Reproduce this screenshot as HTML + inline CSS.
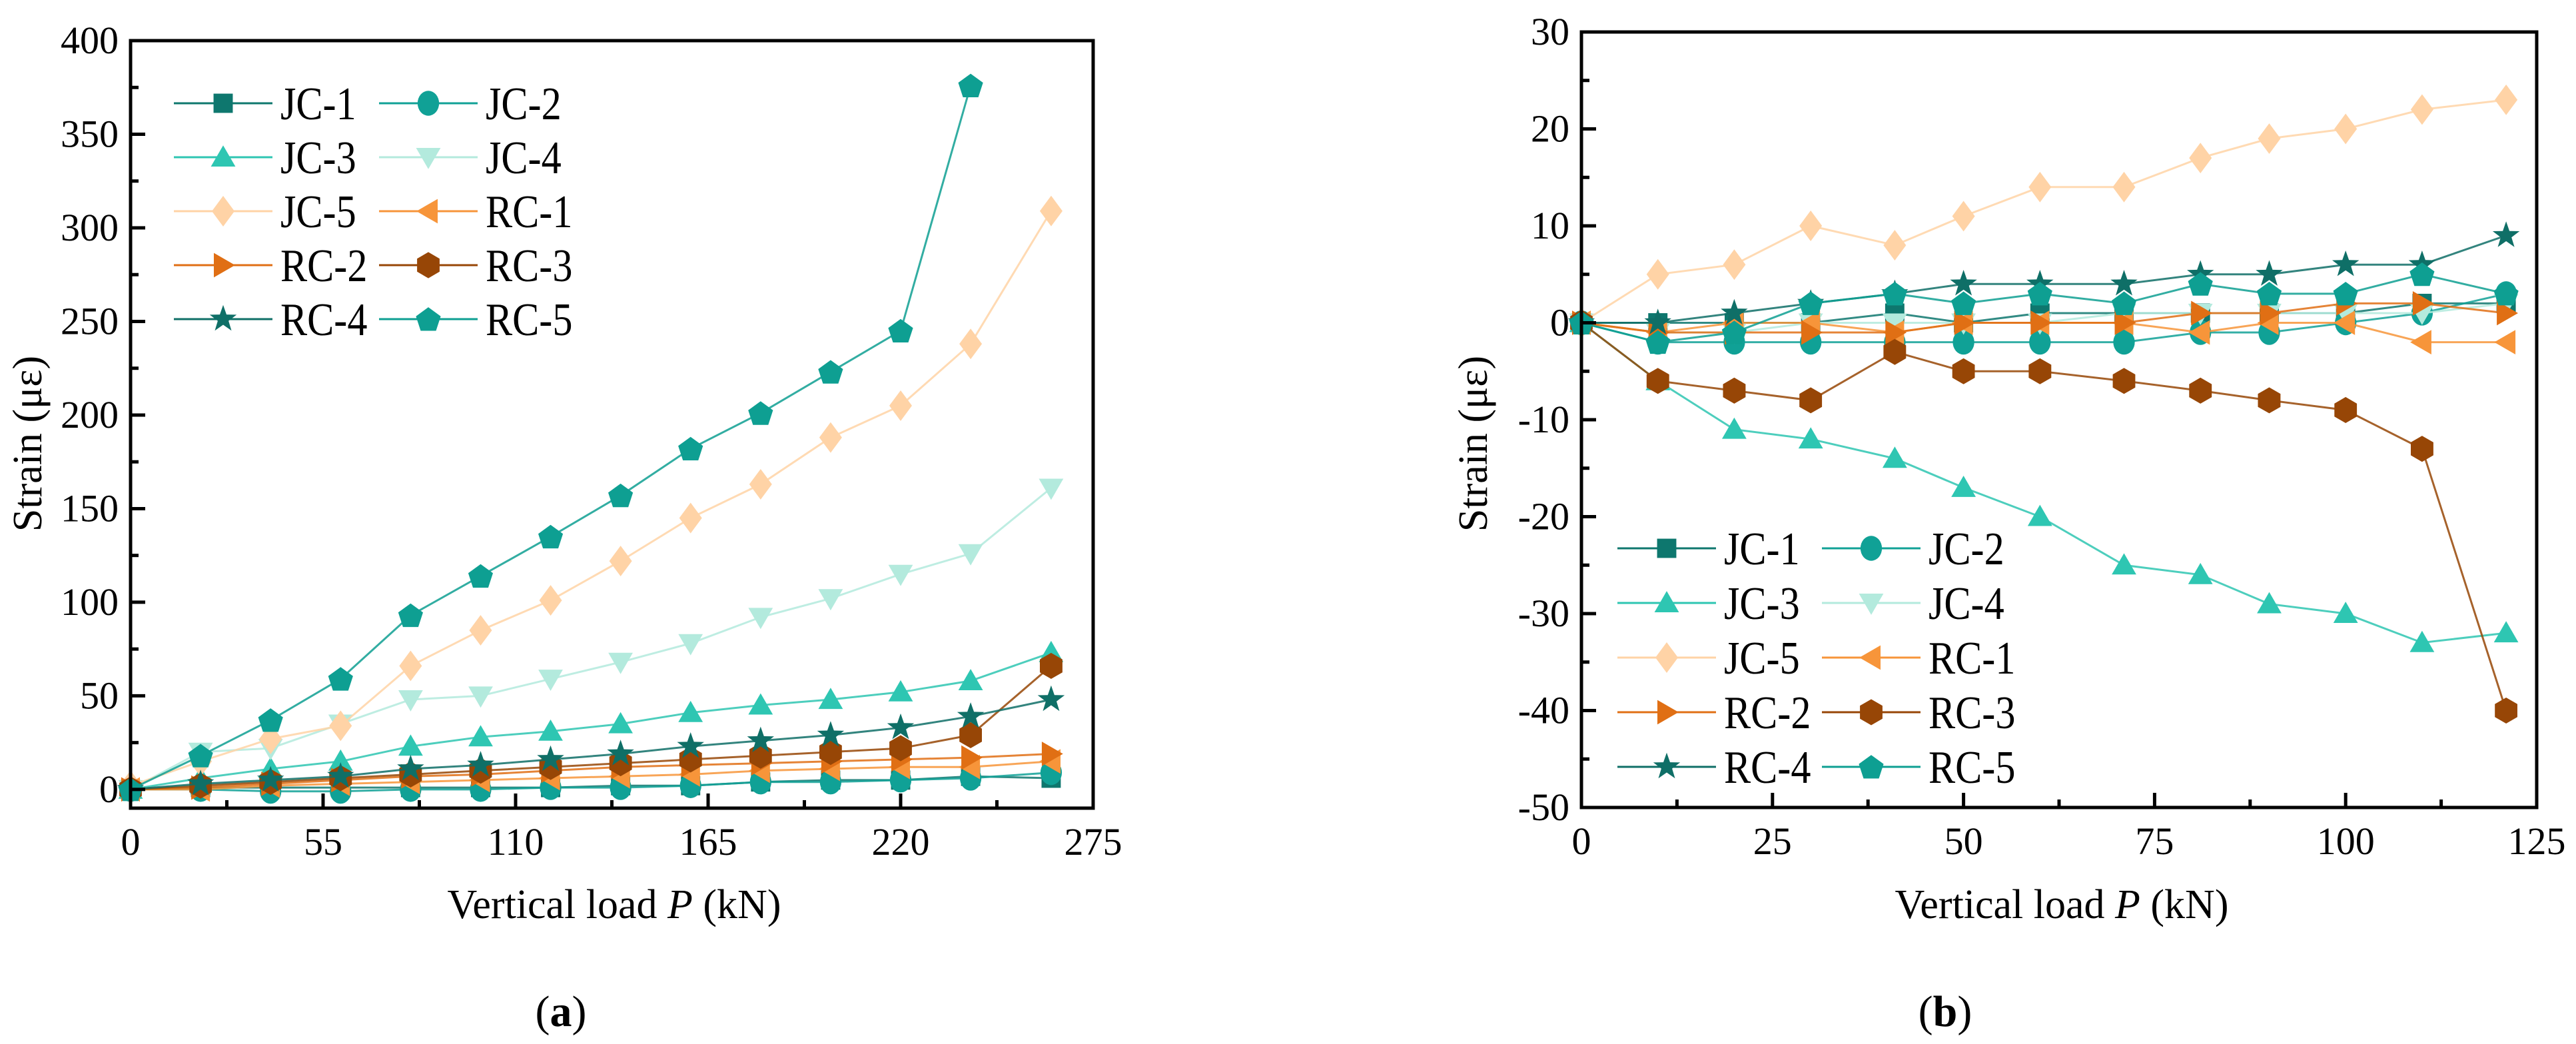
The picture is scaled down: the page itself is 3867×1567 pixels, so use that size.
<!DOCTYPE html>
<html><head><meta charset="utf-8">
<style>
html,body{margin:0;padding:0;background:#fff;}
svg{display:block;}
svg text{font-family:"Liberation Serif","DejaVu Serif",serif !important;fill:#000;}
</style></head>
<body>
<svg id="fig" width="3867" height="1567" viewBox="0 0 3867 1567" xmlns="http://www.w3.org/2000/svg" font-family="Liberation Serif, DejaVu Serif, serif">
<g id="chartA"></g>
<g id="chartB"></g>
</svg>
<script>
// ---------- Data: chart (a) ----------
const loadA = [0,20,40,60,80,100,120,140,160,180,200,220,240,263];
const jc1A = [0,1,1,1,1,1,1,2,2,4,5,5,7,6];
const jc2A = [0,0,-1,-1,0,0,1,1,2,4,4,5,6,9];
const jc3A = [0,6,11,15,23,28,31,35,41,45,48,52,58,73];
const jc4A = [0,20,22,35,48,50,59,68,78,92,102,115,126,161];
const jc5A = [2,15,27,34,66,85,101,122,145,163,188,205,238,309];
const rc1A = [0,0,2,3,4,5,6,7,8,10,11,12,12,15];
const rc2A = [0,1,3,5,7,8,10,12,13,14,15,16,17,19];
const rc3A = [0,2,4,6,8,10,12,14,16,18,20,22,29,66];
const rc4A = [0,3,5,7,11,13,16,19,23,26,29,33,39,48];
const rc5A = [0,18,37,59,93,114,135,157,182,201,223,245,376];
const xTicksA = [0,55,110,165,220,275];
const yTicksA = [0,50,100,150,200,250,300,350,400];

// ---------- Data: chart (b) ----------
const loadB = [0,10,20,30,41,50,60,71,81,90,100,110,121];
const jc1B = [0,0,0,0,1,0,1,1,1,1,1,2,2];
const jc2B = [0,-2,-2,-2,-2,-2,-2,-2,-1,-1,0,1,3];
const jc3B = [0,-6,-11,-12,-14,-17,-20,-25,-26,-29,-30,-33,-32];
const jc4B = [0,-1,-1,0,0,0,0,1,1,1,1,1,2];
const jc5B = [0,5,6,10,8,11,14,14,17,19,20,22,23];
const rc1B = [0,-1,0,0,-1,0,0,0,-1,0,0,-2,-2];
const rc2B = [0,-1,-1,-1,-1,0,0,0,1,1,2,2,1];
const rc3B = [0,-6,-7,-8,-3,-5,-5,-6,-7,-8,-9,-13,-40];
const rc4B = [0,0,1,2,3,4,4,4,5,5,6,6,9];
const rc5B = [0,-2,-1,2,3,2,3,2,4,3,3,5,3];
const xTicksB = [0,25,50,75,100,125];
const yTicksB = [-50,-40,-30,-20,-10,0,10,20,30];

const seriesNames = ['JC-1','JC-2','JC-3','JC-4','JC-5','RC-1','RC-2','RC-3','RC-4','RC-5'];
const colors = ['#0e776e','#10a196','#2ec6b2','#b3eadd','#ffd3a6','#f7953a','#e06f14','#974606','#0f6f67','#0e9f92'];
const shapes = ['square','circle','tri','tridown','diamond','left','right','hex','star','pent'];
const NS='http://www.w3.org/2000/svg';
const SERIF='Liberation Serif, DejaVu Serif, serif';

function el(tag, attrs, parent){const e=document.createElementNS(NS,tag);for(const k in attrs)e.setAttribute(k,attrs[k]);if(tag==='text')e.setAttribute('font-family',SERIF);parent.appendChild(e);return e;}
function poly(cx,cy,r,n,rot){let p=[];for(let i=0;i<n;i++){const a=rot+i*2*Math.PI/n;p.push((cx+r*Math.cos(a)).toFixed(1)+','+(cy+r*Math.sin(a)).toFixed(1));}return p.join(' ');}
function marker(g,shape,cx,cy,color,r){
  let e;
  switch(shape){
    case 'square': e=el('rect',{x:cx-r*0.85,y:cy-r*0.85,width:r*1.7,height:r*1.7,fill:color},g);break;
    case 'circle': e=el('ellipse',{cx:cx,cy:cy,rx:r*0.95,ry:r*1.1,fill:color},g);break;
    case 'tri': e=el('polygon',{points:poly(cx,cy+r*0.2,r*1.25,3,-Math.PI/2),fill:color},g);break;
    case 'tridown': e=el('polygon',{points:poly(cx,cy-r*0.2,r*1.25,3,Math.PI/2),fill:color},g);break;
    case 'diamond': e=el('polygon',{points:`${cx},${cy-r*1.35} ${cx+r},${cy} ${cx},${cy+r*1.35} ${cx-r},${cy}`,fill:color},g);break;
    case 'left': e=el('polygon',{points:poly(cx+r*0.2,cy,r*1.25,3,Math.PI),fill:color},g);break;
    case 'right': e=el('polygon',{points:poly(cx-r*0.2,cy,r*1.25,3,0),fill:color},g);break;
    case 'hex': e=el('polygon',{points:poly(cx,cy,r*1.15,6,-Math.PI/2),fill:color},g);break;
    case 'pent': e=el('polygon',{points:poly(cx,cy+r*0.1,r*1.15,5,-Math.PI/2),fill:color},g);break;
    case 'star': {let p=[];for(let i=0;i<10;i++){const a=-Math.PI/2+i*Math.PI/5;const rr=i%2?r*0.5:r*1.25;p.push((cx+rr*Math.cos(a)).toFixed(1)+','+(cy+rr*Math.sin(a)).toFixed(1));}
      e=el('polygon',{points:p.join(' '),fill:color},g);break;}
  }
  return e;
}

function drawChart(root, cfg){
  const {L,R,T,B,xmin,xmax,ymin,ymax,xTicks,yTicks,xMinor,yMinor,xs,series,legend} = cfg;
  const X=v=>L+(v-xmin)/(xmax-xmin)*(R-L);
  const Y=v=>B-(v-ymin)/(ymax-ymin)*(B-T);
  for(let s=0;s<series.length;s++){
    const vals=series[s];
    const g=el('g',{},root);
    
    
    const pts=vals.map((v,i)=>X(xs[i]).toFixed(1)+','+Y(v).toFixed(1)).join(' ');
    const ln=el('polyline',{points:pts,fill:'none',stroke:colors[s],'stroke-width':3,'stroke-opacity':0.85},g);
    
    
    vals.forEach((v,i)=>{
      const m=marker(g,shapes[s],X(xs[i]),Y(v),colors[s],17);
      
      
    });
  }
  const fr=el('rect',{x:L,y:T,width:R-L,height:B-T,fill:'none',stroke:'#000','stroke-width':5},root);
  
  
  const ax=el('g',{},root);
  
  
  xTicks.forEach(v=>{
    el('line',{x1:X(v),x2:X(v),y1:B,y2:B-22,stroke:'#000','stroke-width':5},ax);
    const t=el('text',{x:X(v),y:B+70,'font-size':58,'text-anchor':'middle'},ax);
    t.textContent=v;
    
    
  });
  xMinor.forEach(v=>el('line',{x1:X(v),x2:X(v),y1:B,y2:B-12,stroke:'#000','stroke-width':5},ax));
  const ay=el('g',{},root);
  
  
  yTicks.forEach(v=>{
    el('line',{x1:L,x2:L+22,y1:Y(v),y2:Y(v),stroke:'#000','stroke-width':5},ay);
    const t=el('text',{x:L-18,y:Y(v)+19,'font-size':58,'text-anchor':'end'},ay);
    t.textContent=v;
    
    
  });
  yMinor.forEach(v=>el('line',{x1:L,x2:L+12,y1:Y(v),y2:Y(v),stroke:'#000','stroke-width':5},ay));
  const lg=el('g',{},root);
  
  
  for(let s=0;s<10;s++){
    const col=s%2,row=Math.floor(s/2);
    const x0=legend.x[col], y0=legend.y0+row*legend.dy;
    const e=el('g',{},lg);
    
    
    el('line',{x1:x0,x2:x0+148,y1:y0,y2:y0,stroke:colors[s],'stroke-width':3},e);
    marker(e,shapes[s],x0+74,y0,colors[s],17);
    const t=el('text',{'font-size':70,transform:`translate(${x0+160},${y0+24}) scale(0.86,1)`},e);
    t.textContent=seriesNames[s];
  }
}

drawChart(document.getElementById('chartA'),{
  L:196,R:1641,T:61,B:1213,xmin:0,xmax:275,ymin:-10,ymax:400,
  xTicks:xTicksA,yTicks:yTicksA,
  xMinor:xTicksA.slice(0,-1).map(v=>v+27.5),
  yMinor:yTicksA.slice(0,-1).map(v=>v+25),
  xs:loadA,
  series:[jc1A,jc2A,jc3A,jc4A,jc5A,rc1A,rc2A,rc3A,rc4A,rc5A],
  legend:{x:[261,569],y0:155,dy:81}
});
drawChart(document.getElementById('chartB'),{
  L:2374,R:3808,T:48,B:1212,xmin:0,xmax:125,ymin:-50,ymax:30,
  xTicks:xTicksB,yTicks:yTicksB,
  xMinor:xTicksB.slice(0,-1).map(v=>v+12.5),
  yMinor:yTicksB.slice(0,-1).map(v=>v+5),
  xs:loadB,
  series:[jc1B,jc2B,jc3B,jc4B,jc5B,rc1B,rc2B,rc3B,rc4B,rc5B],
  legend:{x:[2428,2735],y0:823,dy:82}
});
</script>
<div style="position:absolute;left:0;top:0;width:3867px;height:1567px;pointer-events:none;">
<svg width="3867" height="1567" style="position:absolute;left:0;top:0" font-family="Liberation Serif, DejaVu Serif, serif">
<text x="922" y="1378" font-size="62" text-anchor="middle" font-family="Liberation Serif, DejaVu Serif, serif">Vertical load <tspan font-style="italic">P</tspan> (kN)</text>
<text x="3095" y="1378" font-size="62" text-anchor="middle" font-family="Liberation Serif, DejaVu Serif, serif">Vertical load <tspan font-style="italic">P</tspan> (kN)</text>
<text transform="translate(62,666) rotate(-90)" font-size="62" text-anchor="middle" font-family="Liberation Serif, DejaVu Serif, serif">Strain (με)</text>
<text transform="translate(2232,666) rotate(-90)" font-size="62" text-anchor="middle" font-family="Liberation Serif, DejaVu Serif, serif">Strain (με)</text>
<text x="842" y="1540" font-size="66" text-anchor="middle" font-family="Liberation Serif, DejaVu Serif, serif">(<tspan font-weight="bold">a</tspan>)</text>
<text x="2920" y="1540" font-size="66" text-anchor="middle" font-family="Liberation Serif, DejaVu Serif, serif">(<tspan font-weight="bold">b</tspan>)</text>
</svg>
</div>
</body></html>
